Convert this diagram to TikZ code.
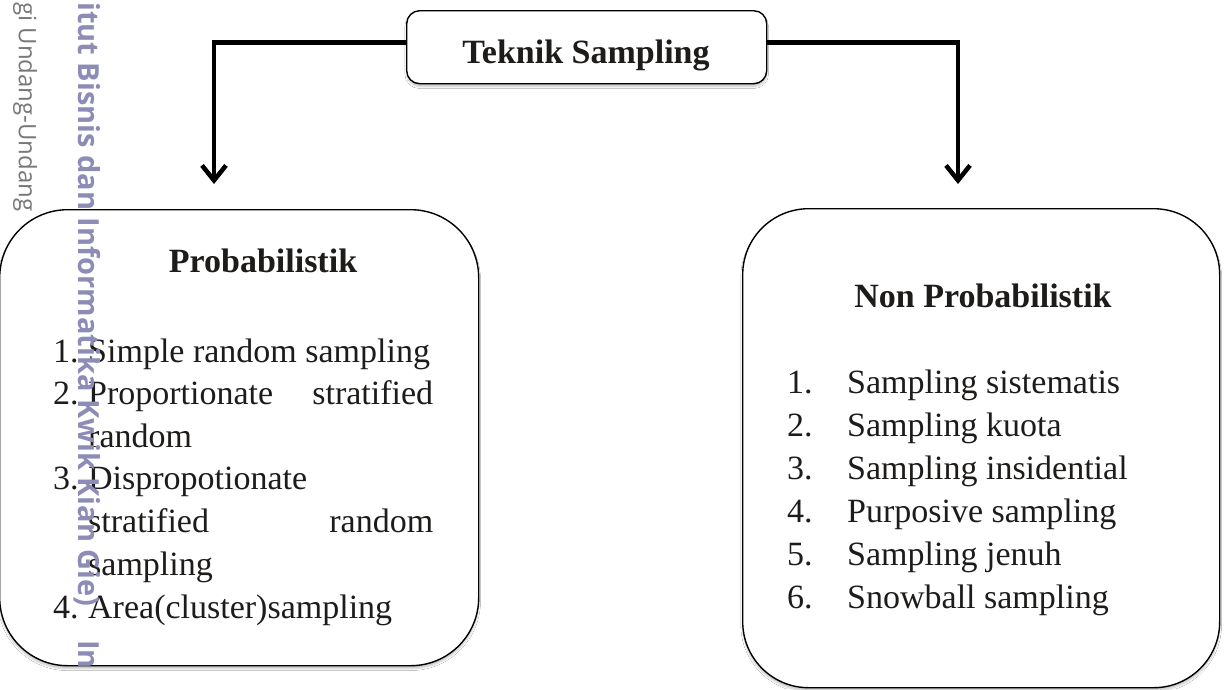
\documentclass[tikz,border=0pt]{standalone}
\usepackage{fontspec}
\setmainfont{Liberation Serif}
\newfontfamily\wmfont{Open Sans}
\usetikzlibrary{arrows.meta,shadows.blur}
\definecolor{wmblue}{RGB}{140,140,182}
\definecolor{wmgray}{RGB}{120,120,120}
\definecolor{ink}{RGB}{30,28,26}
\begin{document}
\begin{tikzpicture}[x=1pt,y=-1pt,
  box/.style={draw=black, line width=1.4pt, fill=white,
    blur shadow={shadow xshift=0pt, shadow yshift=-3pt,
      shadow blur steps=6, shadow opacity=22}},
  conn/.style={line width=4.5pt, -{Straight Barb[length=15pt,width=24pt,line width=4.5pt]}},
  txt/.style={anchor=base west, inner sep=0pt, text=ink,
    font=\fontsize{34}{43}\selectfont},
  head/.style={anchor=base, inner sep=0pt, text=ink,
    font=\fontsize{34}{43}\selectfont\bfseries},
  wm/.style={inner sep=0pt, text=wmblue, font=\wmfont\bfseries\fontsize{29}{29}\selectfont},
  wmthin/.style={inner sep=0pt, text=wmgray, font=\wmfont\fontsize{24}{24}\selectfont}]
\clip (0,0) rectangle (1224,689);
\useasboundingbox (0,0) rectangle (1224,689);
\fill[white] (0,0) rectangle (1224,689);

% faint running text of the page margin
\node[wmthin, rotate=-90, anchor=base west] (wmleft) at (19,2) {gi Undang-Undang};

% the three boxes
\node[box, rounded corners=13pt, minimum width=360pt, minimum height=73pt,
  anchor=north west] (top) at (406,10) {};
\node[box, rounded corners=68pt, minimum width=479pt, minimum height=456pt,
  anchor=north west] (prob) at (-1,209) {};
\node[box, rounded corners=66pt, minimum width=477pt, minimum height=479pt,
  anchor=north west] (nonprob) at (742,208) {};

% connectors
\coordinate (ltip) at (214,184);
\coordinate (rtip) at (958,184);
\draw[conn] ([yshift=4.5pt]top.west) -| (ltip);
\draw[conn] ([yshift=4.5pt]top.east) -| (rtip);

% title
\node[head] (title) at (586,63) {Teknik Sampling};

% probabilistic techniques
\node[head] (probh) at (263,272) {Probabilistik};
\node[txt] (p1n) at (53,362) {1.};
\node[txt] (p1) at (88,362) {Simple random sampling};
\node[txt] (p2n) at (53,404) {2.};
\node[txt] (p2) at (88,404) {\hbox to 345pt{Proportionate\hfill stratified}};
\node[txt] (p2b) at (88,447) {random};
\node[txt] (p3n) at (53,489) {3.};
\node[txt] (p3) at (88,489) {Dispropotionate};
\node[txt] (p3b) at (88,532) {\hbox to 345pt{stratified\hfill random}};
\node[txt] (p3c) at (88,575) {sampling};
\node[txt] (p4n) at (53,618) {4.};
\node[txt] (p4) at (88,618) {Area(cluster)sampling};

% non-probabilistic techniques
\node[head] (nonh) at (983,307) {Non Probabilistik};
\foreach \i/\y/\t in {1/393/Sampling sistematis, 2/436/Sampling kuota,
    3/479/Sampling insidential, 4/522/Purposive sampling,
    5/565/Sampling jenuh, 6/608/Snowball sampling}{
  \node[txt] (n\i n) at (787,\y) {\i.};
  \node[txt] (n\i) at (847,\y) {\t};
}

% institutional mark running down the margin
\node[wm, rotate=-90, anchor=base west] (wm1) at (78,2) {itut Bisnis dan Informatika Kwik Kian Gie)};
\node[wm, rotate=-90, anchor=base west] (wm2) at (78,640) {In};
\end{tikzpicture}
\end{document}
